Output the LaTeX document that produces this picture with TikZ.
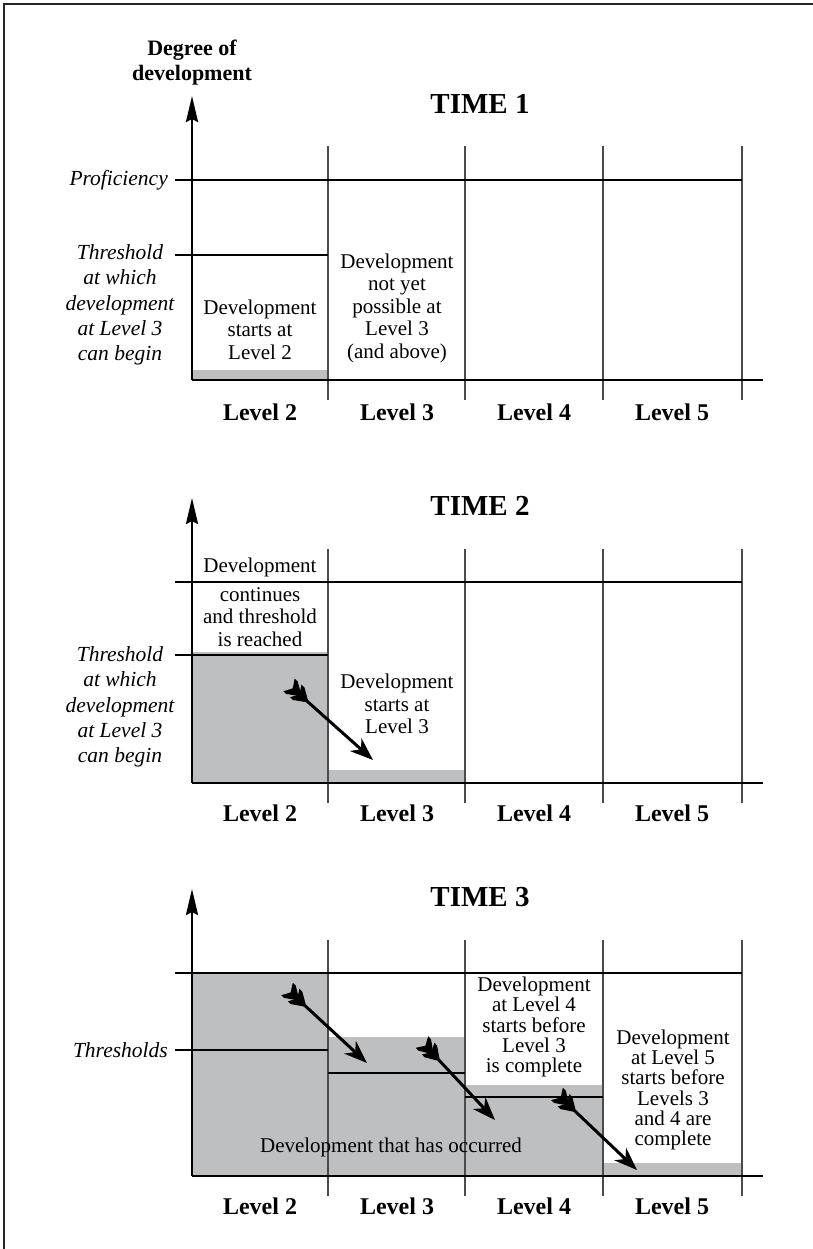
\documentclass[tikz,border=0pt]{standalone}
\usepackage{fontspec}
\setmainfont{Liberation Serif}
\usetikzlibrary{arrows.meta,decorations.markings}
\definecolor{fillgray}{RGB}{190,191,193}
\definecolor{gridgray}{RGB}{75,75,75}
\begin{document}
\begin{tikzpicture}[x=1pt,y=-1pt,
  axisline/.style={line width=2.6pt,black},
  axisarrow/.style={line width=2.6pt,black,-{Stealth[length=26pt,width=12pt,inset=3pt]}},
  vline/.style={line width=1.1pt,gridgray},
  hline/.style={line width=1.1pt,black},
  shade/.style={fill=fillgray,draw=none},
  dart/.style={line width=3pt,black,shorten <=6pt,
     -{Stealth[length=23pt,width=17pt,inset=7pt]},
     postaction={decorate,decoration={markings,mark=at position 0 with {
        \fill[black] (0pt,8.5pt) -- (4pt,8.5pt) -- (14pt,2pt) -- (14pt,-2pt) -- (4pt,-8.5pt) -- (0pt,-8.5pt) -- (5pt,0pt) -- cycle;
        \fill[black] (9pt,8.5pt) -- (13pt,8.5pt) -- (24pt,1.5pt) -- (24pt,-1.5pt) -- (13pt,-8.5pt) -- (9pt,-8.5pt) -- (14pt,0pt) -- cycle;
     }}}},
  bodytext/.style={font=\fontsize{21}{22.5}\selectfont,align=center,inner sep=0pt},
  tighttext/.style={font=\fontsize{21}{20.2}\selectfont,align=center,inner sep=0pt},
  lefttext/.style={font=\fontsize{21.5}{25.2}\selectfont\itshape,align=center,inner sep=0pt},
  levellabel/.style={font=\fontsize{24}{26}\selectfont\bfseries,inner sep=0pt},
  timelabel/.style={font=\fontsize{29}{31}\selectfont\bfseries,inner sep=0pt},
  axislabel/.style={font=\fontsize{22}{25}\selectfont\bfseries,align=center,inner sep=0pt}
]
\useasboundingbox (0,0) rectangle (813,1249);
% frame
\draw[line width=2pt,black!85] (4,1249) -- (4,4) -- (813,4);

% ================= TIME 1 =================
\fill[shade] (192,370) rectangle (328,380);
\foreach \x in {328,465,603,742} \draw[vline] (\x,146) -- (\x,400);
\draw[hline] (175,180) -- (742,180);
\draw[hline] (175,255) -- (328,255);
\coordinate (o1) at (192,380);
\coordinate (xe1) at (763,380);
\coordinate (yt1) at (192,96);
\draw[axisline] (o1) -- (xe1);
\draw[axisarrow] (o1) -- (yt1);
\node[axislabel] (deg) at (192,63) {Degree of\\development};
\node[timelabel] (time1) at (480,104) {TIME 1};
\node[lefttext,anchor=east] (prof) at (168,180) {Proficiency};
\node[lefttext] (thr1) at (120,305) {Threshold\\at which\\development\\at Level 3\\can begin};
\node[bodytext] (t1a) at (260,329.5) {Development\\starts at\\Level 2};
\node[bodytext] (t1b) at (397,308) {Development\\not yet\\possible at\\Level 3\\(and above)};
\node[levellabel] (l12) at (260,412) {Level 2};
\node[levellabel] (l13) at (397,412) {Level 3};
\node[levellabel] (l14) at (534,412) {Level 4};
\node[levellabel] (l15) at (672,412) {Level 5};

% ================= TIME 2 =================
\fill[shade] (192,652) rectangle (328,783);
\fill[shade] (328,770) rectangle (465,783);
\foreach \x in {328,465,603,742} \draw[vline] (\x,549) -- (\x,803);
\draw[hline] (175,582) -- (742,582);
\draw[hline] (175,655) -- (328,655);
\coordinate (o2) at (192,783);
\coordinate (xe2) at (763,783);
\coordinate (yt2) at (192,498);
\draw[axisline] (o2) -- (xe2);
\draw[axisarrow] (o2) -- (yt2);
\node[timelabel] (time2) at (480,506) {TIME 2};
\node[lefttext] (thr2) at (120,707) {Threshold\\at which\\development\\at Level 3\\can begin};
\node[bodytext] (t2a) at (260,567) {Development};
\node[bodytext] (t2b) at (260,617) {continues\\and threshold\\is reached};
\node[bodytext] (t2c) at (397,704) {Development\\starts at\\Level 3};
\coordinate (a2s) at (289,685);
\coordinate (a2e) at (373,760);
\draw[dart] (a2s) -- (a2e);
\node[levellabel] (l22) at (260,813) {Level 2};
\node[levellabel] (l23) at (397,813) {Level 3};
\node[levellabel] (l24) at (534,813) {Level 4};
\node[levellabel] (l25) at (672,813) {Level 5};

% ================= TIME 3 =================
\fill[shade] (192,973) rectangle (328,1176);
\fill[shade] (328,1037) rectangle (465,1176);
\fill[shade] (465,1085) rectangle (603,1176);
\fill[shade] (603,1163) rectangle (742,1176);
\foreach \x in {328,465,603,742} \draw[vline] (\x,940) -- (\x,1196);
\draw[hline] (175,973) -- (742,973);
\draw[hline] (175,1050) -- (328,1050);
\draw[hline] (328,1073) -- (465,1073);
\draw[hline] (465,1097) -- (603,1097);
\coordinate (o3) at (192,1176);
\coordinate (xe3) at (763,1176);
\coordinate (yt3) at (192,889);
\draw[axisline] (o3) -- (xe3);
\draw[axisarrow] (o3) -- (yt3);
\node[timelabel] (time3) at (480,897) {TIME 3};
\node[lefttext,anchor=east] (thr3) at (168,1050) {Thresholds};
\node[tighttext] (t3a) at (534,1027) {Development\\at Level 4\\starts before\\Level 3\\is complete};
\node[tighttext] (t3b) at (673,1090) {Development\\at Level 5\\starts before\\Levels 3\\and 4 are\\complete};
\node[bodytext] (t3c) at (391,1147) {Development that has occurred};
\coordinate (a3s) at (287,989);
\coordinate (a3e) at (367,1063);
\coordinate (b3s) at (422,1042);
\coordinate (b3e) at (495,1120);
\coordinate (c3s) at (557,1094);
\coordinate (c3e) at (637,1170);
\draw[dart] (a3s) -- (a3e);
\draw[dart] (b3s) -- (b3e);
\draw[dart] (c3s) -- (c3e);
\node[levellabel] (l32) at (260,1206) {Level 2};
\node[levellabel] (l33) at (397,1206) {Level 3};
\node[levellabel] (l34) at (534,1206) {Level 4};
\node[levellabel] (l35) at (672,1206) {Level 5};
\end{tikzpicture}
\end{document}
